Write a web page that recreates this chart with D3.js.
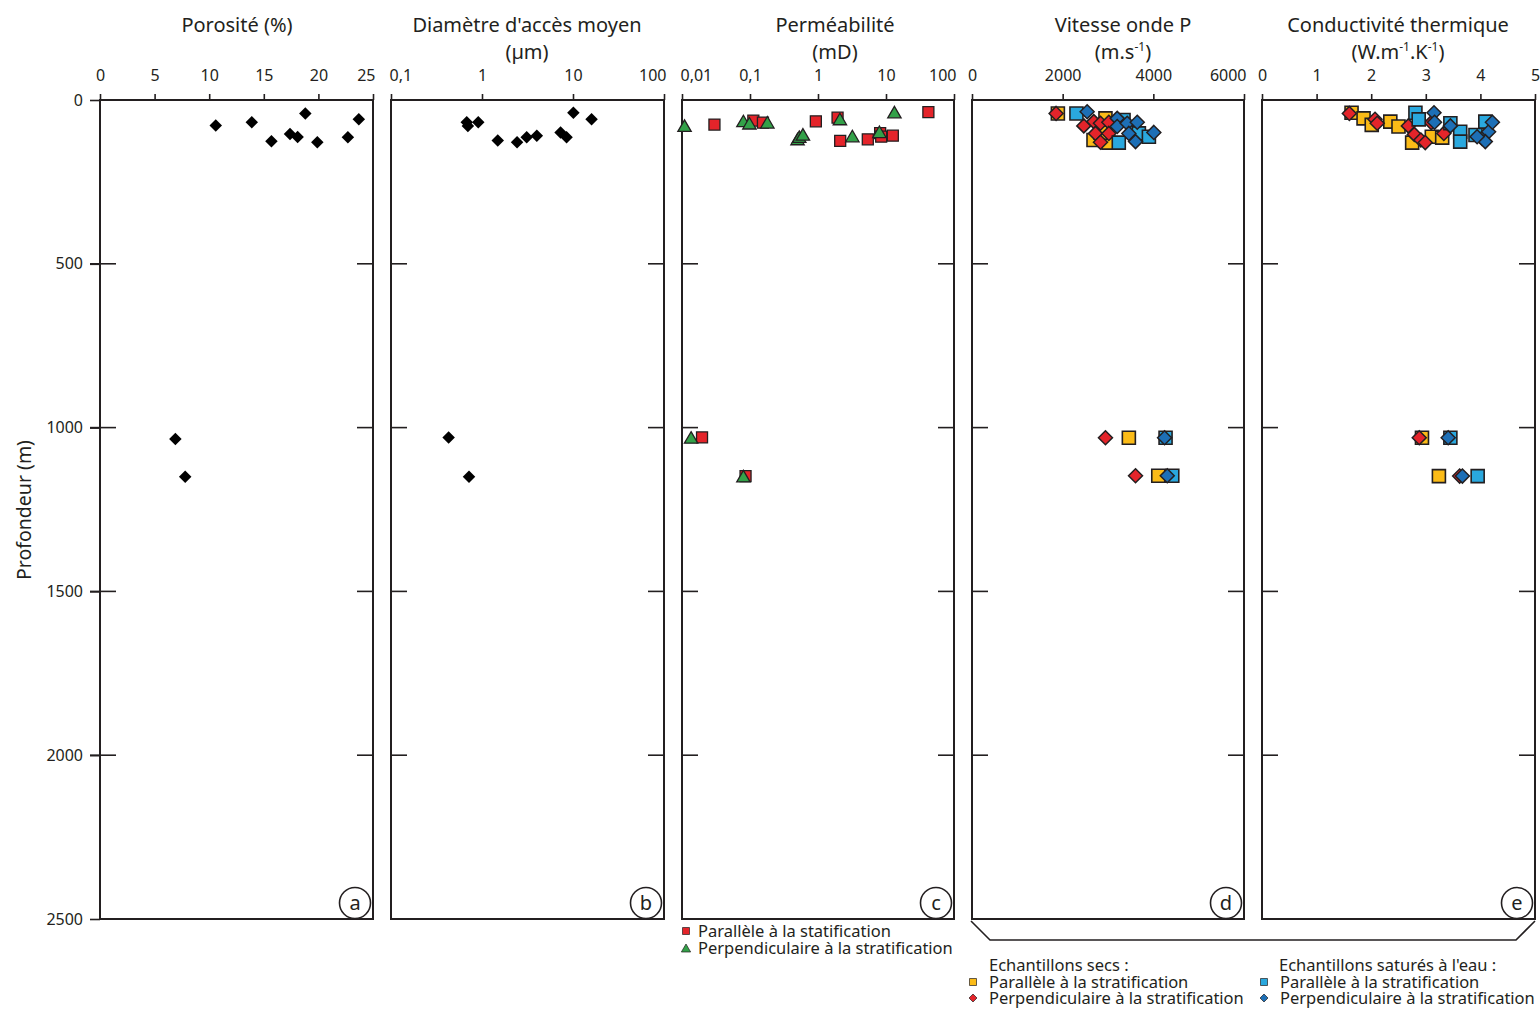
<!DOCTYPE html>
<html><head><meta charset="utf-8">
<script src="https://cdn.jsdelivr.net/npm/d3@7"></script>
<style>
body{margin:0;background:#fff}
text{font-family:"Noto Sans",sans-serif;fill:#231f20}
</style>
</head><body>
<svg id="chart" width="1540" height="1011"></svg>
<script>
// ---------- ticks ----------
const depthTicks = [0, 500, 1000, 1500, 2000, 2500];
const porositeTicks = [0, 5, 10, 15, 20, 25];
const diametreTicks = [0.1, 1, 10, 100];
const permTicks = [0.01, 0.1, 1, 10, 100];
const vitesseTicks = [0, 2000, 4000, 6000];
const conductTicks = [0, 1, 2, 3, 4, 5];

// ---------- data: [value, depth (m)] ----------
const porosite = [[10.6,78],[13.9,68],[18.8,41],[23.7,59],[15.7,126],[17.4,104],[18.1,113],[19.9,129],[22.7,114],[6.9,1035],[7.8,1150]];
const diametre = [[0.68,68],[0.70,79],[0.91,68],[1.49,124],[2.43,129],[3.1,114],[4.0,109],[7.3,99],[8.5,114],[10.1,39],[16,59],[0.43,1030],[0.72,1150]];
const permParallele = [[0.030,75],[0.112,63],[0.155,69],[0.93,65],[1.94,54],[2.12,125],[5.4,120],[8.2,101],[8.5,112],[12.6,109],[42,37],[0.0197,1030],[0.086,1148]];
const permPerpendiculaire = [[0.0109,78],[0.08,64],[0.098,71],[0.18,68],[0.50,119],[0.53,112],[0.60,105],[2.1,58],[3.2,110],[8.0,97],[13.3,37],[0.0136,1030],[0.08,1148]];
const vpSecPar = [[1894,41],[2944,56],[2944,85],[3010,130],[2680,122],[2836,100],[3460,1031],[4109,1147]];
const vpSecPerp = [[1855,41],[2466,79],[2687,66],[2834,71],[3018,68],[2724,102],[2834,129],[3018,102],[2944,1031],[3607,1147]];
const vpSatPar = [[2304,41],[3238,130],[3534,86],[3681,102],[3902,112],[3343,61],[4270,1031],[4418,1147]];
const vpSatPerp = [[2540,36],[3203,56],[3203,81],[3424,71],[3645,68],[3460,102],[3607,127],[4011,99],[4248,1031],[4307,1147]];
const ktSecPar = [[1.64,39],[1.86,56],[2.01,76],[2.35,66],[2.50,81],[2.75,130],[3.11,112],[3.30,115],[2.93,1031],[3.24,1148]];
const ktSecPerp = [[1.60,41],[2.07,59],[2.11,71],[2.68,79],[2.79,105],[2.91,122],[2.99,130],[3.10,69],[3.33,102],[2.88,1031],[3.62,1148]];
const ktSatPar = [[2.81,39],[2.87,59],[3.45,71],[3.63,97],[3.63,127],[3.91,107],[4.09,66],[3.45,1031],[3.95,1148]];
const ktSatPerp = [[3.15,39],[3.16,68],[3.45,79],[4.03,117],[4.15,97],[4.22,68],[4.09,127],[3.94,112],[3.41,1031],[3.67,1148]];

const titles = [["Porosité (%)"],["Diamètre d'accès moyen","(µm)"],["Perméabilité","(mD)"],["Vitesse onde P","(m.s|-1|)"],["Conductivité thermique","(W.m|-1|.K|-1|)"]];
const letters = ["a","b","c","d","e"];

const C = {yellow:"#fbbb17", red:"#e4242a", lblue:"#2aa8de", dblue:"#1d6fb6", green:"#33a149"};

// ---------- layout ----------
const svg = d3.select("#chart");
const TOP = 100, BOT = 919;
const y = d3.scaleLinear().domain([0, 2500]).range([TOP, BOT]);

const fmt = v => String(v).replace(".", ",");

const panels = [
  {x0:100, x1:373, x:d3.scaleLinear().domain([0,25]), ticks:porositeTicks, tc:237},
  {x0:391, x1:664, x:d3.scaleLog().domain([0.1,100]), ticks:diametreTicks, tc:527},
  {x0:682, x1:954, x:d3.scaleLog().domain([0.01,100]), ticks:permTicks, tc:835},
  {x0:972, x1:1244, x:d3.scaleLinear().domain([0,6000]), ticks:vitesseTicks, tc:1123},
  {x0:1262, x1:1535, x:d3.scaleLinear().domain([0,5]), ticks:conductTicks, tc:1398}
];
panels.forEach(p => p.x.range([p.x0, p.x1]));

// marker paths
const sq = s => `M${-s/2},${-s/2}h${s}v${s}h${-s}Z`;
const dia = s => `M0,${-s/2}L${s/2},0L0,${s/2}L${-s/2},0Z`;
const tri = s => `M0,${-s*0.5}L${s*0.58},${s*0.5}L${-s*0.58},${s*0.5}Z`;

panels.forEach((p, i) => {
  const g = svg.append("g");
  // top axis
  const ax = g.append("g").attr("transform", `translate(0,${TOP})`)
    .call(d3.axisTop(p.x).tickValues(p.ticks).tickSize(6).tickPadding(13).tickFormat(fmt));
  ax.select(".domain").remove();
  ax.selectAll(".tick line").attr("stroke", "#231f20").attr("stroke-width", 1.6);
  ax.selectAll(".tick text").attr("font-family", "Noto Sans").attr("font-size", 16).attr("fill", "#231f20")
    .attr("text-anchor", (d, k) => {
      const s = fmt(d);
      if (k === 0 && s.length > 1) return "start";
      if (k === p.ticks.length - 1 && s.length > 1) return "end";
      return "middle";
    })
    .attr("dx", (d, k) => {
      const s = fmt(d);
      if (k === 0 && s.length > 1) return -2;
      if (k === p.ticks.length - 1 && s.length > 1) return 2;
      return 0;
    });

  // depth inward ticks
  const inner = depthTicks.slice(1, -1);
  g.selectAll(".lt").data(inner).join("line")
    .attr("x1", i === 0 ? p.x0 - 10 : p.x0).attr("x2", p.x0 + 16)
    .attr("y1", d => y(d)).attr("y2", d => y(d))
    .attr("stroke", "#231f20").attr("stroke-width", 1.6);
  g.selectAll(".rt").data(inner).join("line")
    .attr("x1", p.x1 - 16).attr("x2", p.x1)
    .attr("y1", d => y(d)).attr("y2", d => y(d))
    .attr("stroke", "#231f20").attr("stroke-width", 1.6);

  // frame
  g.append("rect").attr("x", p.x0).attr("y", TOP).attr("width", p.x1 - p.x0).attr("height", BOT - TOP)
    .attr("fill", "none").attr("stroke", "#231f20").attr("stroke-width", 2);

  // title
  titles[i].forEach((line, k) => {
    const t = g.append("text").attr("x", p.tc).attr("y", 32 + k * 27)
      .attr("text-anchor", "middle").attr("font-size", 20);
    const parts = line.split("|");
    parts.forEach((part, j) => {
      if (j % 2 === 1) {
        t.append("tspan").attr("font-size", 12).attr("dy", -8).text(part);
      } else {
        t.append("tspan").attr("dy", j > 0 ? 8 : 0).text(part);
      }
    });
  });

  // letter circle
  g.append("circle").attr("cx", p.x1 - 18).attr("cy", 903).attr("r", 15.5)
    .attr("fill", "#fff").attr("stroke", "#231f20").attr("stroke-width", 1.6);
  g.append("text").attr("x", p.x1 - 18).attr("y", 910).attr("text-anchor", "middle")
    .attr("font-size", 20).text(letters[i]);
});

// depth axis labels on panel a
const dax = svg.append("g").attr("transform", `translate(${panels[0].x0},0)`)
  .call(d3.axisLeft(y).tickValues(depthTicks).tickSize(10).tickPadding(7).tickFormat(d => d));
dax.select(".domain").remove();
dax.selectAll(".tick line").attr("stroke", "#231f20").attr("stroke-width", 1.6);
dax.selectAll(".tick text").attr("font-family", "Noto Sans").attr("font-size", 16).attr("fill", "#231f20");

svg.append("text").attr("transform", "translate(31,510) rotate(-90)")
  .attr("text-anchor", "middle").attr("font-size", 19.5).text("Profondeur (m)");

// ---------- marks ----------
function plot(p, data, shape, size, fill, stroke, sw) {
  svg.append("g").selectAll("path").data(data).join("path")
    .attr("d", shape(size))
    .attr("transform", d => `translate(${p.x(d[0])},${y(d[1])})`)
    .attr("fill", fill).attr("stroke", stroke).attr("stroke-width", sw);
}
const [pa, pb, pc, pd, pe] = panels;
plot(pa, porosite, dia, 12.5, "#000", "none", 0);
plot(pb, diametre, dia, 12.5, "#000", "none", 0);
plot(pc, permParallele, sq, 11, C.red, "#231f20", 1.3);
plot(pc, permPerpendiculaire, tri, 11.5, C.green, "#231f20", 1.3);
plot(pd, vpSecPar, sq, 13, C.yellow, "#231f20", 1.6);
plot(pd, vpSecPerp, dia, 14, C.red, "#231f20", 1.5);
plot(pd, vpSatPar, sq, 13, C.lblue, "#231f20", 1.6);
plot(pd, vpSatPerp, dia, 14, C.dblue, "#231f20", 1.5);
plot(pe, ktSecPar, sq, 13, C.yellow, "#231f20", 1.6);
plot(pe, ktSecPerp, dia, 14, C.red, "#231f20", 1.5);
plot(pe, ktSatPar, sq, 13, C.lblue, "#231f20", 1.6);
plot(pe, ktSatPerp, dia, 14, C.dblue, "#231f20", 1.5);

// ---------- legends ----------
const leg = svg.append("g");
function legItem(x, yy, shape, size, fill, label) {
  leg.append("path").attr("d", shape(size)).attr("transform", `translate(${x},${yy})`)
    .attr("fill", fill).attr("stroke", "#231f20").attr("stroke-width", 0.7);
  if (label) leg.append("text").attr("x", x + 12).attr("y", yy + 6).attr("font-size", 16.5).text(label);
}
legItem(686, 931, sq, 7, C.red, "Parallèle à la statification");
legItem(686, 948, tri, 8, C.green, "Perpendiculaire à la stratification");

leg.append("path").attr("d", "M971,921L990,940L1516,940L1535,921")
  .attr("fill", "none").attr("stroke", "#231f20").attr("stroke-width", 1.6);

leg.append("text").attr("x", 989).attr("y", 971).attr("font-size", 16.5).text("Echantillons secs :");
function legItem2(x, yy, shape, size, fill, label) {
  leg.append("path").attr("d", shape(size)).attr("transform", `translate(${x},${yy})`)
    .attr("fill", fill).attr("stroke", "#231f20").attr("stroke-width", 0.7);
  leg.append("text").attr("x", x + 16).attr("y", yy + 6).attr("font-size", 16.5).text(label);
}
legItem2(973, 982, sq, 7, C.yellow, "Parallèle à la stratification");
legItem2(973, 998, dia, 8, C.red, "Perpendiculaire à la stratification");
leg.append("text").attr("x", 1279).attr("y", 971).attr("font-size", 16.5).text("Echantillons saturés à l'eau :");
legItem2(1264, 982, sq, 7, C.lblue, "Parallèle à la stratification");
legItem2(1264, 998, dia, 8, C.dblue, "Perpendiculaire à la stratification");
</script>
</body></html>
